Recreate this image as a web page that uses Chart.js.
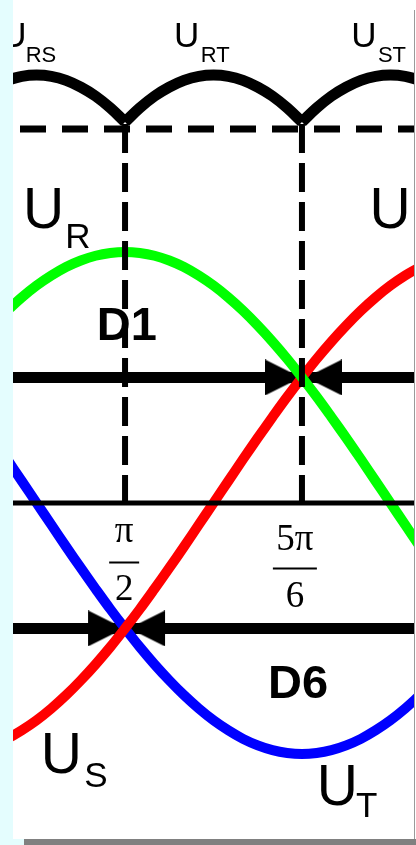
<!DOCTYPE html>
<html>
<head>
<meta charset="utf-8">
<script src="https://cdn.jsdelivr.net/npm/chart.js@4"></script>
<style>
  html, body { margin: 0; padding: 0; }
  body { width: 416px; height: 845px; background: #e4fdfe; position: relative; overflow: hidden; }
  #panel { position: absolute; left: 13px; top: 0; width: 403px; height: 839px; background: #fff; }
  #edge { position: absolute; left: 414px; top: 10px; width: 1px; height: 829px; background: #9a9a9a; }
  #shadow { position: absolute; left: 24px; top: 839px; width: 392px; height: 6px; background: #808080; }
  #plot { position: absolute; left: 13px; top: 0; }
</style>
</head>
<body>
<div id="panel"></div>
<div id="edge"></div>
<div id="shadow"></div>
<canvas id="plot" width="401" height="839"></canvas>
<script>
// angle wt in degrees, phase voltages in per unit of the peak
const theta = [50, 55, 60, 65, 70, 75, 80, 85, 90, 95, 100, 105, 110, 115, 120, 125, 130, 135, 140, 145, 150, 155, 160, 165, 170, 175, 180, 185, 190];
const uR = [0.766, 0.819, 0.866, 0.906, 0.940, 0.966, 0.985, 0.996, 1.000, 0.996, 0.985, 0.966, 0.940, 0.906, 0.866, 0.819, 0.766, 0.707, 0.643, 0.574, 0.500, 0.423, 0.342, 0.259, 0.174, 0.087, 0.000, -0.087, -0.174];
const uS = [-0.940, -0.906, -0.866, -0.819, -0.766, -0.707, -0.643, -0.574, -0.500, -0.423, -0.342, -0.259, -0.174, -0.087, 0.000, 0.087, 0.174, 0.259, 0.342, 0.423, 0.500, 0.574, 0.643, 0.707, 0.766, 0.819, 0.866, 0.906, 0.940];
const uT = [0.174, 0.087, 0.000, -0.087, -0.174, -0.259, -0.342, -0.423, -0.500, -0.574, -0.643, -0.707, -0.766, -0.819, -0.866, -0.906, -0.940, -0.966, -0.985, -0.996, -1.000, -0.996, -0.985, -0.966, -0.940, -0.906, -0.866, -0.819, -0.766];
// rectified line voltage (top strip, not to scale)
const uLine = [1.684, 1.700, 1.705, 1.700, 1.684, 1.657, 1.621, 1.574, 1.518, 1.574, 1.621, 1.657, 1.684, 1.700, 1.705, 1.700, 1.684, 1.657, 1.621, 1.574, 1.518, 1.574, 1.621, 1.657, 1.684, 1.700, 1.705, 1.700, 1.684];
const lineNames = ['RS', 'RT', 'ST'];
const commutation = [90, 150];          // pi/2 and 5pi/6
const tickLabels = [['π', '2'], ['5π', '6']];
const dLevels = [0.5, -0.5];            // D1, D6
const dNames = ['D1', 'D6'];
const refLevel = 1.49;                  // dashed line under the envelope

const xMin = 52, xMax = 188;
const sans = '"Liberation Sans", Arial, sans-serif';
const serif = '"Liberation Serif", "Times New Roman", serif';

// text placed in data coordinates (left edge, baseline)
const notes = [
  { text: 'U', at: [48.0, 1.817], font: `35px ${sans}` },
  { text: lineNames[0], at: [56.3, 1.757], font: `22px ${sans}` },
  { text: 'U', at: [106.6, 1.817], font: `35px ${sans}` },
  { text: lineNames[1], at: [115.7, 1.757], font: `22px ${sans}` },
  { text: 'U', at: [166.7, 1.817], font: `35px ${sans}` },
  { text: lineNames[2], at: [175.75, 1.757], font: `22px ${sans}` },
  { text: 'U', at: [55.4, 1.096], font: `57px ${sans}` },
  { text: 'R', at: [69.7, 1.016], font: `35px ${sans}` },
  { text: 'U', at: [172.9, 1.096], font: `57px ${sans}` },
  { text: 'U', at: [61.4, -1.076], font: `57px ${sans}` },
  { text: 'S', at: [76.2, -1.131], font: `35px ${sans}` },
  { text: 'U', at: [155.0, -1.203], font: `57px ${sans}` },
  { text: 'T', at: [168.3, -1.251], font: `35px ${sans}` },
  { text: dNames[0], at: [80.4, 0.649], font: `bold 47px ${sans}` },
  { text: dNames[1], at: [138.5, -0.777], font: `bold 47px ${sans}` }
];
const fractions = [
  { x: 89.7, num: -0.155, bar: -0.235, den: -0.386, half: 15 },
  { x: 147.6, num: -0.187, bar: -0.259, den: -0.414, half: 22 }
];

function arrowHead(dir) {
  const L = 36, H = 36;
  const c = document.createElement('canvas');
  c.width = 2 * L + 10; c.height = H;
  const g = c.getContext('2d');
  const tip = c.width / 2 + (dir > 0 ? -1 : 4);
  g.fillStyle = '#000';
  g.beginPath();
  g.moveTo(tip, H / 2);
  g.lineTo(tip - dir * L, 0);
  g.lineTo(tip - dir * L, H);
  g.closePath();
  g.fill();
  return c;
}

const pts = ys => theta.map((t, i) => ({ x: t, y: ys[i] }));
const flat = y => [{ x: xMin, y }, { x: xMax, y }];
const cuts = [theta[0], ...commutation, theta[theta.length - 1]];
const arcs = lineNames.map((n, k) => pts(uLine).filter(p => p.x >= cuts[k] && p.x <= cuts[k + 1]));
const crossings = commutation.slice().reverse().map((t, i) => ({ x: t, y: dLevels[i] }));

const lineDs = (label, data, color, width, order, extra) => Object.assign({
  label, data, borderColor: color, borderWidth: width, showLine: true,
  pointRadius: 0, tension: 0, order
}, extra || {});

const datasets = [
  ...commutation.map(t => lineDs('cut ' + t, [{ x: t, y: 1.51 }, { x: t, y: 0 }], '#000', 6, 0, { borderDash: [29, 10] })),
  lineDs('zero', flat(0), '#000', 5, 1),
  lineDs('ref', flat(refLevel), '#000', 7, 2, { borderDash: [26, 16], borderDashOffset: 35 }),
  lineDs('U_R', pts(uR), '#00ff00', 10, 3, { tension: 0.4 }),
  lineDs('U_S', pts(uS), '#ff0000', 10, 3, { tension: 0.4 }),
  lineDs('U_T', pts(uT), '#0000ff', 10, 3, { tension: 0.4 }),
  { label: 'arrow >', data: crossings, pointStyle: arrowHead(1), pointRadius: 5, showLine: false, order: 4 },
  { label: 'arrow <', data: crossings, pointStyle: arrowHead(-1), pointRadius: 5, showLine: false, order: 4 },
  ...dLevels.map((v, i) => lineDs(dNames[i], flat(v), '#000', 11, 5)),
  ...arcs.map((a, k) => lineDs('U_' + lineNames[k], a, '#000', 11, 6, { tension: 0.4, borderJoinStyle: 'round' }))
];

const annotate = {
  id: 'annotate',
  afterDatasetsDraw(chart) {
    const { ctx, scales: { x, y } } = chart;
    ctx.save();
    ctx.fillStyle = '#000';
    ctx.strokeStyle = '#000';
    ctx.textBaseline = 'alphabetic';
    ctx.textAlign = 'left';
    notes.forEach(n => {
      ctx.font = n.font;
      ctx.fillText(n.text, x.getPixelForValue(n.at[0]), y.getPixelForValue(n.at[1]));
    });
    ctx.textAlign = 'center';
    ctx.font = `37px ${serif}`;
    ctx.lineWidth = 2;
    fractions.forEach((f, i) => {
      const cx = x.getPixelForValue(f.x);
      ctx.fillText(tickLabels[i][0], cx, y.getPixelForValue(f.num));
      ctx.fillText(tickLabels[i][1], cx, y.getPixelForValue(f.den));
      const by = Math.round(y.getPixelForValue(f.bar)) + 0.5;
      ctx.beginPath();
      ctx.moveTo(cx - f.half, by);
      ctx.lineTo(cx + f.half, by);
      ctx.stroke();
    });
    ctx.restore();
  }
};

new Chart(document.getElementById('plot'), {
  type: 'scatter',
  data: { datasets },
  options: {
    responsive: false,
    animation: false,
    events: [],
    layout: { padding: 0, autoPadding: false },
    plugins: { legend: { display: false }, tooltip: { enabled: false } },
    scales: {
      x: { type: 'linear', min: xMin, max: xMax, display: false },
      y: { type: 'linear', min: -1.339, max: 2.004, display: false }
    }
  },
  plugins: [annotate]
});
</script>
</body>
</html>
